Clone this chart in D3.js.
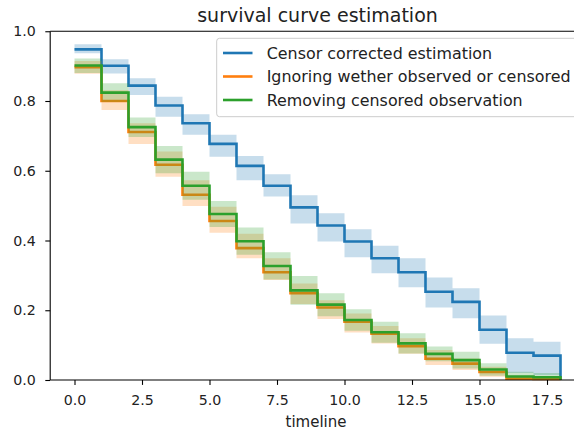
<!DOCTYPE html>
<html><head><meta charset="utf-8">
<script src="https://cdn.jsdelivr.net/npm/d3@7"></script>
<style>body{margin:0;background:#fff}svg{display:block;font-family:"DejaVu Sans",sans-serif}</style>
</head><body><svg id="c" width="574" height="432"></svg>
<script>
const timeline = [0,1,2,3,4,5,6,7,8,9,10,11,12,13,14,15,16,17,18];
const xTicks = [0,2.5,5,7.5,10,12.5,15,17.5];
const yTicks = [0,0.2,0.4,0.6,0.8,1.0];
const seriesNames = ["Censor corrected estimation","Ignoring wether observed or censored","Removing censored observation"];
const colors = ["#1f77b4","#ff7f0e","#2ca02c"];

const censorCorrected = [0.948,0.901,0.844,0.787,0.736,0.677,0.614,0.557,0.495,0.443,0.397,0.349,0.309,0.253,0.224,0.144,0.078,0.070,0];
const censorCorrectedUpper = [0.963,0.920,0.865,0.812,0.762,0.703,0.642,0.590,0.530,0.478,0.432,0.385,0.349,0.294,0.263,0.185,0.120,0.110,0];
const censorCorrectedLower = [0.937,0.879,0.817,0.755,0.703,0.640,0.573,0.526,0.449,0.397,0.352,0.306,0.266,0.208,0.177,0.104,0.020,0.014,0];

const ignoring = [0.897,0.800,0.711,0.617,0.531,0.456,0.378,0.309,0.249,0.208,0.167,0.133,0.097,0.061,0.047,0.023,0.004,0.003,0];
const ignoringUpper = [0.915,0.831,0.736,0.655,0.573,0.497,0.419,0.349,0.277,0.229,0.191,0.155,0.120,0.086,0.062,0.038,0.012,0.010,0];
const ignoringLower = [0.878,0.774,0.677,0.583,0.499,0.422,0.349,0.287,0.218,0.175,0.136,0.105,0.075,0.043,0.029,0.009,0,0,0];

const removing = [0.902,0.824,0.725,0.632,0.557,0.476,0.398,0.327,0.257,0.216,0.172,0.137,0.105,0.075,0.057,0.030,0.010,0.008,0];
const removingUpper = [0.922,0.851,0.753,0.671,0.597,0.513,0.437,0.366,0.298,0.249,0.203,0.167,0.134,0.096,0.081,0.048,0.024,0.020,0];
const removingLower = [0.880,0.797,0.697,0.593,0.517,0.439,0.359,0.288,0.216,0.183,0.141,0.107,0.076,0.054,0.033,0.012,0.002,0.001,0];

const series = [
  {v:censorCorrected, hi:censorCorrectedUpper, lo:censorCorrectedLower},
  {v:ignoring, hi:ignoringUpper, lo:ignoringLower},
  {v:removing, hi:removingUpper, lo:removingLower}
];

const svg = d3.select("#c");
const x = d3.scaleLinear().domain([-0.9,18.9]).range([50.2,584.8]);
const y = d3.scaleLinear().domain([0,1]).range([380,31.25]);

const plot = svg.append("g");
const line = d3.line().x(d=>x(d[0])).y(d=>y(d[1])).curve(d3.curveStepAfter);
const area = d3.area().x(d=>x(d[0])).y0(d=>y(d[1])).y1(d=>y(d[2])).curve(d3.curveStepAfter);

series.forEach((s,i)=>{
  const pts = timeline.map((t,j)=>[t,s.v[j]]);
  plot.append("path").attr("d",line(pts)).attr("fill","none")
    .attr("stroke",colors[i]).attr("stroke-width",2.6);
  const band = timeline.map((t,j)=>[t,s.lo[j],s.hi[j]]);
  plot.append("path").attr("d",area(band)).attr("fill",colors[i]).attr("fill-opacity",0.25);
});

// axes
const xAxis = d3.axisBottom(x).tickValues(xTicks).tickFormat(d3.format(".1f")).tickSize(4.9).tickPadding(10.5);
const yAxis = d3.axisLeft(y).tickValues(yTicks).tickFormat(d3.format(".1f")).tickSize(4.9).tickPadding(9.5);
const gx = svg.append("g").attr("transform","translate(0,380)").call(xAxis);
const gy = svg.append("g").attr("transform","translate(50.2,0)").call(yAxis);
[gx,gy].forEach(g=>{
  g.select(".domain").remove();
  g.selectAll("line").attr("stroke","#000").attr("stroke-width",1.1);
  g.selectAll("text").attr("font-size","14.2px").attr("fill","#222").attr("font-family","DejaVu Sans");
});
// spines
svg.append("line").attr("x1",x(-0.9)).attr("x2",x(-0.9)).attr("y1",y(0)).attr("y2",y(1)).attr("stroke","#000").attr("stroke-width",1.1);
svg.append("line").attr("x1",x(-0.9)).attr("x2",x(18.9)).attr("y1",y(0)).attr("y2",y(0)).attr("stroke","#000").attr("stroke-width",1.1);
svg.append("line").attr("x1",x(-0.9)).attr("x2",x(18.9)).attr("y1",y(1)).attr("y2",y(1)).attr("stroke","#000").attr("stroke-width",1.1);
svg.append("line").attr("x1",x(18.9)).attr("x2",x(18.9)).attr("y1",y(0)).attr("y2",y(1)).attr("stroke","#000").attr("stroke-width",1.1);

// title and label
svg.append("text").attr("x",(x(-0.9)+x(18.9))/2).attr("y",22).attr("text-anchor","middle")
  .attr("font-size","19px").attr("fill","#222").text("survival curve estimation");
svg.append("text").attr("x",316).attr("y",427).attr("text-anchor","middle")
  .attr("font-size","15px").attr("fill","#222").text("timeline");

// legend
const lg = svg.append("g");
lg.append("rect").attr("x",216.7).attr("y",38.3).attr("width",361).attr("height",78.4)
  .attr("rx",2.8).attr("fill","#fff").attr("fill-opacity",0.8).attr("stroke","#ccc").attr("stroke-width",1);
const rowsY = [53, 76.5, 100];
seriesNames.forEach((n,i)=>{
  lg.append("line").attr("x1",223).attr("x2",252.5).attr("y1",rowsY[i]).attr("y2",rowsY[i])
    .attr("stroke",colors[i]).attr("stroke-width",2.6);
  lg.append("text").attr("x",266.7).attr("y",rowsY[i]+5.5).attr("font-size","15.9px").attr("fill","#222").text(n);
});
</script></body></html>
